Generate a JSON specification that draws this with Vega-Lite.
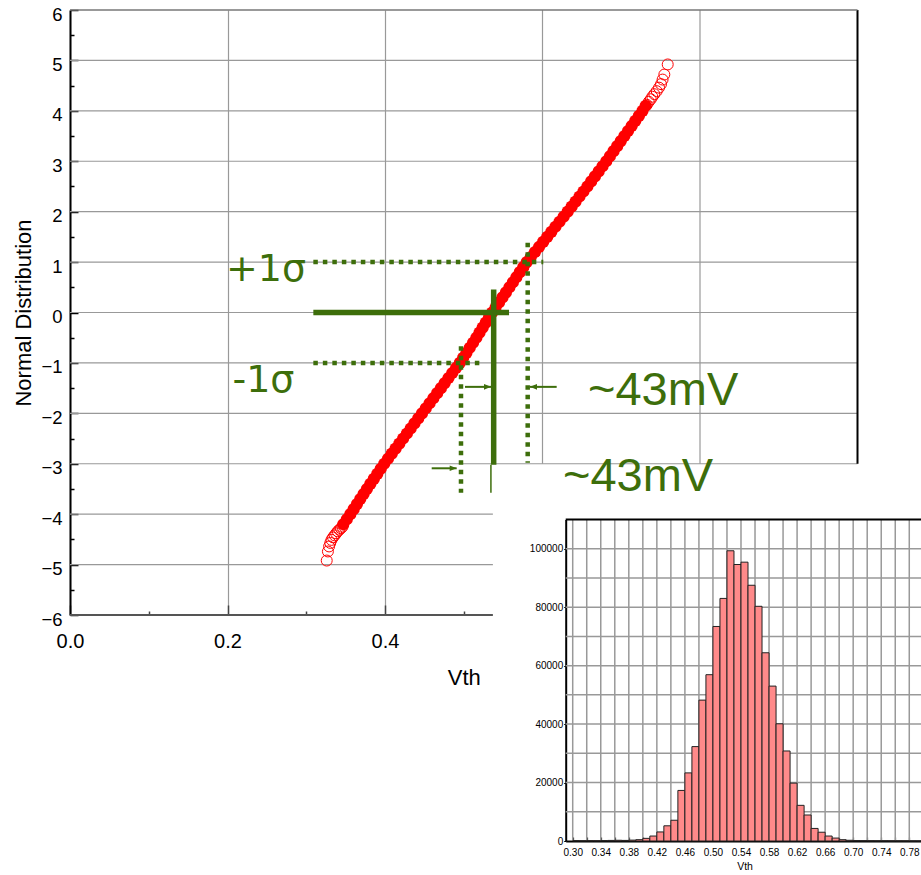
{
  "$schema": "https://vega.github.io/schema/vega-lite/v6.json",
  "width": 787.5,
  "height": 605,
  "autosize": "none",
  "padding": {"left": 70, "top": 10, "right": 63.5, "bottom": 260},
  "background": "white",
  "config": {"view": {"stroke": null}, "font": "Liberation Sans"},
  "datasets": {
    "qq_core": [
      {"z":-4.2,"vth":0.347},{"z":-4.1,"vth":0.3515},{"z":-4.0,"vth":0.356},{"z":-3.9,"vth":0.3602},{"z":-3.8,"vth":0.3644},{"z":-3.7,"vth":0.3686},{"z":-3.6,"vth":0.3728},{"z":-3.5,"vth":0.377},{"z":-3.4,"vth":0.3814},{"z":-3.3,"vth":0.3858},{"z":-3.2,"vth":0.3902},{"z":-3.1,"vth":0.3946},{"z":-3.0,"vth":0.399},{"z":-2.9,"vth":0.4038},{"z":-2.8,"vth":0.4086},{"z":-2.7,"vth":0.4134},{"z":-2.6,"vth":0.4182},{"z":-2.5,"vth":0.423},{"z":-2.4,"vth":0.4278},{"z":-2.3,"vth":0.4326},{"z":-2.2,"vth":0.4374},{"z":-2.1,"vth":0.4422},{"z":-2.0,"vth":0.447},{"z":-1.9,"vth":0.4518},{"z":-1.8,"vth":0.4566},{"z":-1.7,"vth":0.4614},{"z":-1.6,"vth":0.4662},{"z":-1.5,"vth":0.471},{"z":-1.4,"vth":0.4758},{"z":-1.3,"vth":0.4806},{"z":-1.2,"vth":0.4854},{"z":-1.1,"vth":0.4902},{"z":-1.0,"vth":0.495},{"z":-0.9,"vth":0.4992},{"z":-0.8,"vth":0.5034},{"z":-0.7,"vth":0.5076},{"z":-0.6,"vth":0.5118},{"z":-0.5,"vth":0.516},{"z":-0.4,"vth":0.52},{"z":-0.3,"vth":0.524},{"z":-0.2,"vth":0.528},{"z":-0.1,"vth":0.532},{"z":0,"vth":0.536},{"z":0.1,"vth":0.5404},{"z":0.2,"vth":0.5448},{"z":0.3,"vth":0.5492},{"z":0.4,"vth":0.5536},{"z":0.5,"vth":0.558},{"z":0.6,"vth":0.5624},{"z":0.7,"vth":0.5668},{"z":0.8,"vth":0.5712},{"z":0.9,"vth":0.5756},{"z":1.0,"vth":0.58},{"z":1.1,"vth":0.5852},{"z":1.2,"vth":0.5904},{"z":1.3,"vth":0.5956},{"z":1.4,"vth":0.6008},{"z":1.5,"vth":0.606},{"z":1.6,"vth":0.6112},{"z":1.7,"vth":0.6164},{"z":1.8,"vth":0.6216},{"z":1.9,"vth":0.6268},{"z":2.0,"vth":0.632},{"z":2.1,"vth":0.637},{"z":2.2,"vth":0.642},{"z":2.3,"vth":0.647},{"z":2.4,"vth":0.652},{"z":2.5,"vth":0.657},{"z":2.6,"vth":0.6618},{"z":2.7,"vth":0.6666},{"z":2.8,"vth":0.6714},{"z":2.9,"vth":0.6762},{"z":3.0,"vth":0.681},{"z":3.1,"vth":0.6856},{"z":3.2,"vth":0.6902},{"z":3.3,"vth":0.6948},{"z":3.4,"vth":0.6994},{"z":3.5,"vth":0.704},{"z":3.6,"vth":0.7086},{"z":3.7,"vth":0.7132},{"z":3.8,"vth":0.7178},{"z":3.9,"vth":0.7224},{"z":4.0,"vth":0.727},{"z":4.1,"vth":0.731}
    ],
    "qq_tail": [
      {"z":-4.25,"vth":0.346},{"z":-4.28,"vth":0.344},{"z":-4.31,"vth":0.342},{"z":-4.34,"vth":0.34},{"z":-4.38,"vth":0.338},{"z":-4.42,"vth":0.336},{"z":-4.46,"vth":0.334},{"z":-4.51,"vth":0.332},{"z":-4.57,"vth":0.3305},{"z":-4.64,"vth":0.329},{"z":-4.74,"vth":0.3275},{"z":-4.92,"vth":0.326},
      {"z":4.12,"vth":0.7325},{"z":4.18,"vth":0.735},{"z":4.23,"vth":0.7375},{"z":4.28,"vth":0.7395},{"z":4.33,"vth":0.742},{"z":4.39,"vth":0.745},{"z":4.46,"vth":0.748},{"z":4.53,"vth":0.7505},{"z":4.62,"vth":0.7525},{"z":4.72,"vth":0.7547},{"z":4.92,"vth":0.759}
    ],
    "main_vgrid_upper": [{"g":0.6},{"g":0.8}],
    "main_hgrid_full": [{"g":-3},{"g":-2},{"g":-1},{"g":0},{"g":1},{"g":2},{"g":3},{"g":4},{"g":5}],
    "main_hgrid_short": [{"g":-5},{"g":-4}],
    "hist": [
      {"bin_start":0.30,"bin_end":0.31,"count":150},{"bin_start":0.31,"bin_end":0.32,"count":100},{"bin_start":0.32,"bin_end":0.33,"count":120},{"bin_start":0.33,"bin_end":0.34,"count":100},{"bin_start":0.34,"bin_end":0.35,"count":150},{"bin_start":0.35,"bin_end":0.36,"count":200},{"bin_start":0.36,"bin_end":0.37,"count":250},{"bin_start":0.37,"bin_end":0.38,"count":200},{"bin_start":0.38,"bin_end":0.39,"count":300},{"bin_start":0.39,"bin_end":0.40,"count":450},
      {"bin_start":0.40,"bin_end":0.41,"count":900},{"bin_start":0.41,"bin_end":0.42,"count":1700},{"bin_start":0.42,"bin_end":0.43,"count":3100},{"bin_start":0.43,"bin_end":0.44,"count":5200},{"bin_start":0.44,"bin_end":0.45,"count":7100},{"bin_start":0.45,"bin_end":0.46,"count":17300},{"bin_start":0.46,"bin_end":0.47,"count":23300},{"bin_start":0.47,"bin_end":0.48,"count":32300},{"bin_start":0.48,"bin_end":0.49,"count":48200},{"bin_start":0.49,"bin_end":0.50,"count":56900},
      {"bin_start":0.50,"bin_end":0.51,"count":73400},{"bin_start":0.51,"bin_end":0.52,"count":83000},{"bin_start":0.52,"bin_end":0.53,"count":99300},{"bin_start":0.53,"bin_end":0.54,"count":94600},{"bin_start":0.54,"bin_end":0.55,"count":95400},{"bin_start":0.55,"bin_end":0.56,"count":87500},{"bin_start":0.56,"bin_end":0.57,"count":80300},{"bin_start":0.57,"bin_end":0.58,"count":64400},{"bin_start":0.58,"bin_end":0.59,"count":53000},{"bin_start":0.59,"bin_end":0.60,"count":40100},
      {"bin_start":0.60,"bin_end":0.61,"count":30800},{"bin_start":0.61,"bin_end":0.62,"count":19800},{"bin_start":0.62,"bin_end":0.63,"count":12200},{"bin_start":0.63,"bin_end":0.64,"count":8900},{"bin_start":0.64,"bin_end":0.65,"count":4300},{"bin_start":0.65,"bin_end":0.66,"count":3000},{"bin_start":0.66,"bin_end":0.67,"count":1700},{"bin_start":0.67,"bin_end":0.68,"count":1000},{"bin_start":0.68,"bin_end":0.69,"count":450},{"bin_start":0.69,"bin_end":0.70,"count":250},
      {"bin_start":0.70,"bin_end":0.71,"count":150},{"bin_start":0.71,"bin_end":0.72,"count":120},{"bin_start":0.72,"bin_end":0.73,"count":100},{"bin_start":0.73,"bin_end":0.74,"count":80},{"bin_start":0.74,"bin_end":0.75,"count":80},{"bin_start":0.75,"bin_end":0.76,"count":60},{"bin_start":0.76,"bin_end":0.77,"count":50},{"bin_start":0.77,"bin_end":0.78,"count":40},{"bin_start":0.78,"bin_end":0.79,"count":30},{"bin_start":0.79,"bin_end":0.80,"count":20}
    ],
    "vgrid": [
      {"v":0.30},{"v":0.32},{"v":0.34},{"v":0.36},{"v":0.38},{"v":0.40},{"v":0.42},{"v":0.44},{"v":0.46},{"v":0.48},{"v":0.50},{"v":0.52},{"v":0.54},{"v":0.56},{"v":0.58},{"v":0.60},{"v":0.62},{"v":0.64},{"v":0.66},{"v":0.68},{"v":0.70},{"v":0.72},{"v":0.74},{"v":0.76},{"v":0.78},{"v":0.80}
    ],
    "hgrid": [
      {"c":10000},{"c":20000},{"c":30000},{"c":40000},{"c":50000},{"c":60000},{"c":70000},{"c":80000},{"c":90000},{"c":100000}
    ],
    "dotted": [
      {"x":0.309,"x2":0.601,"y":1,"y2":1},
      {"x":0.309,"x2":0.525,"y":-1,"y2":-1},
      {"x":0.4965,"x2":0.4965,"y":-0.667,"y2":-3.574},
      {"x":0.5812,"x2":0.5812,"y":1.384,"y2":-2.98}
    ],
    "solid": [
      {"x":0.309,"x2":0.5575,"y":0,"y2":0},
      {"x":0.538,"x2":0.538,"y":0.458,"y2":-3.02}
    ],
    "solid_thin": [
      {"x":0.5345,"x2":0.5345,"y":-3.02,"y2":-3.574}
    ],
    "arrows": [
      {"tail":0.5016,"tip":0.5346,"y":-1.475,"dir":"right"},
      {"tail":0.618,"tip":0.5841,"y":-1.475,"dir":"left"},
      {"tail":0.4593,"tip":0.491,"y":-3.09,"dir":"right"}
    ],
    "sigma_labels": [
      {"x":0.198,"y":0.616,"label":"+1σ"},
      {"x":0.2063,"y":-1.585,"label":"-1σ"}
    ],
    "mv_labels": [
      {"x":0.6578,"y":-1.843,"label":"~43mV"},
      {"x":0.626,"y":-3.538,"label":"~43mV"}
    ]
  },
  "layer": [
    {
      "layer": [
        {
          "data": {"name": "main_vgrid_upper"},
          "mark": {"type": "rule", "color": "#999999", "strokeWidth": 1.2},
          "encoding": {
            "x": {"field": "g", "type": "quantitative", "scale": {"domain": [0, 1], "nice": false, "zero": false}, "axis": null},
            "y": {"datum": -3, "type": "quantitative", "scale": {"domain": [-6, 6], "nice": false, "zero": false}, "axis": null},
            "y2": {"datum": 6}
          }
        },
        {
          "data": {"name": "main_hgrid_full"},
          "mark": {"type": "rule", "color": "#999999", "strokeWidth": 1.2},
          "encoding": {
            "y": {"field": "g", "type": "quantitative", "scale": {"domain": [-6, 6], "nice": false, "zero": false}, "axis": null},
            "x": {"datum": 0, "type": "quantitative", "scale": {"domain": [0, 1], "nice": false, "zero": false}, "axis": null},
            "x2": {"datum": 1}
          }
        },
        {
          "data": {"name": "main_hgrid_short"},
          "mark": {"type": "rule", "color": "#999999", "strokeWidth": 1.2},
          "encoding": {
            "y": {"field": "g", "type": "quantitative", "scale": {"domain": [-6, 6], "nice": false, "zero": false}, "axis": null},
            "x": {"datum": 0, "type": "quantitative", "scale": {"domain": [0, 1], "nice": false, "zero": false}, "axis": null},
            "x2": {"datum": 0.537}
          }
        },
        {
          "data": {"values": [{}]},
          "mark": {"type": "rule", "color": "#555555", "strokeWidth": 2},
          "encoding": {
            "y": {"datum": -6, "type": "quantitative", "axis": null},
            "x": {"datum": 0, "type": "quantitative", "axis": null},
            "x2": {"datum": 0.537}
          }
        },
        {
          "data": {"values": [{}]},
          "mark": {"type": "rule", "color": "#000000", "strokeWidth": 2},
          "encoding": {
            "x": {"datum": 1, "type": "quantitative", "axis": null},
            "y": {"datum": -3, "type": "quantitative", "axis": null},
            "y2": {"datum": 6}
          }
        },
        {
          "data": {"values": [{}]},
          "mark": {"type": "rule", "color": "#777777", "strokeWidth": 1.5},
          "encoding": {
            "y": {"datum": 6, "type": "quantitative", "axis": null},
            "x": {"datum": 0, "type": "quantitative", "axis": null},
            "x2": {"datum": 1}
          }
        },
        {
          "data": {"name": "qq_core"},
          "mark": {"type": "point", "filled": true, "color": "#ff0000", "size": 150, "opacity": 1, "strokeWidth": 0},
          "encoding": {
            "x": {"field": "vth", "type": "quantitative", "scale": {"domain": [0, 1], "nice": false, "zero": false},
              "axis": {"orient": "bottom", "values": [0, 0.2, 0.4], "format": ".1f", "grid": true, "gridColor": "#999999", "gridWidth": 1.2,
                "domain": false, "tickColor": "#444444", "tickWidth": 1.5, "tickSize": -10,
                "labelFontSize": 20, "labelColor": "#000000", "labelPadding": 26, "labelFlush": false,
                "title": "Vth", "titleFontSize": 22, "titleFontWeight": "normal", "titleColor": "#000000", "titlePadding": 16}},
            "y": {"field": "z", "type": "quantitative", "scale": {"domain": [-6, 6], "nice": false, "zero": false},
              "axis": {"orient": "left", "values": [-6, -5, -4, -3, -2, -1, 0, 1, 2, 3, 4, 5, 6], "format": "d", "grid": false,
                "domainColor": "#000000", "domainWidth": 2, "tickColor": "#000000", "tickWidth": 1.5, "tickSize": -8,
                "labelFontSize": 18.5, "labelColor": "#000000", "labelPadding": 16, "labelOffset": 4, "labelFlush": false,
                "title": "Normal Distribution", "titleFontSize": 22, "titleFontWeight": "normal", "titleColor": "#000000", "titlePadding": 5}}
          }
        },
        {
          "data": {"name": "qq_tail"},
          "mark": {"type": "point", "filled": false, "color": "#ff0000", "size": 120, "strokeWidth": 1, "opacity": 1},
          "encoding": {
            "x": {"field": "vth", "type": "quantitative", "scale": {"domain": [0, 1], "nice": false, "zero": false},
              "axis": {"orient": "bottom", "values": [0.1, 0.3, 0.5], "grid": false, "labels": false, "domain": false, "tickSize": -4, "tickColor": "#444444", "tickWidth": 1.5, "title": null}},
            "y": {"field": "z", "type": "quantitative", "scale": {"domain": [-6, 6], "nice": false, "zero": false},
              "axis": {"orient": "left", "values": [-5.5, -4.5, -3.5, -2.5, -1.5, -0.5, 0.5, 1.5, 2.5, 3.5, 4.5, 5.5], "grid": false, "labels": false, "domain": false, "tickSize": -4, "tickColor": "#000000", "tickWidth": 1.5, "title": null}}
          }
        }
      ],
      "resolve": {"axis": {"x": "independent", "y": "independent"}}
    },
    {
      "layer": [
        {
          "data": {"name": "vgrid"},
          "mark": {"type": "rule", "color": "#999999", "strokeWidth": 1.5},
          "encoding": {
            "x": {"field": "v", "type": "quantitative", "scale": {"domain": [0.29, 0.8], "range": [495.7, 853.3], "nice": false, "zero": false}, "axis": null},
            "y": {"datum": 0, "type": "quantitative", "scale": {"domain": [0, 110000], "range": [831, 509.5], "nice": false, "zero": false}, "axis": null},
            "y2": {"datum": 110000}
          }
        },
        {
          "data": {"name": "hgrid"},
          "mark": {"type": "rule", "color": "#999999", "strokeWidth": 1.5},
          "encoding": {
            "y": {"field": "c", "type": "quantitative", "scale": {"domain": [0, 110000], "range": [831, 509.5], "nice": false, "zero": false}, "axis": null},
            "x": {"datum": 0.29, "type": "quantitative", "scale": {"domain": [0.29, 0.8], "range": [495.7, 853.3], "nice": false, "zero": false}, "axis": null},
            "x2": {"datum": 0.8}
          }
        },
        {
          "data": {"values": [{}]},
          "mark": {"type": "rule", "color": "#000000", "strokeWidth": 2},
          "encoding": {
            "y": {"datum": 110000, "type": "quantitative", "scale": {"domain": [0, 110000], "range": [831, 509.5], "nice": false, "zero": false}, "axis": null},
            "x": {"datum": 0.29, "type": "quantitative", "scale": {"domain": [0.29, 0.8], "range": [495.7, 853.3], "nice": false, "zero": false}, "axis": null},
            "x2": {"datum": 0.8}
          }
        },
        {
          "data": {"name": "hist"},
          "mark": {"type": "rect", "fill": "#ff8a8a", "stroke": "#222222", "strokeWidth": 1},
          "encoding": {
            "x": {"field": "bin_start", "type": "quantitative", "scale": {"domain": [0.29, 0.8], "range": [495.7, 853.3], "nice": false, "zero": false},
              "axis": {"orient": "bottom", "offset": 226, "values": [0.30, 0.32, 0.34, 0.36, 0.38, 0.40, 0.42, 0.44, 0.46, 0.48, 0.50, 0.52, 0.54, 0.56, 0.58, 0.60, 0.62, 0.64, 0.66, 0.68, 0.70, 0.72, 0.74, 0.76, 0.78, 0.80],
                "format": ".2f", "labelExpr": "round(datum.value*100) % 4 == 2 ? datum.label : ''", "grid": false, "domainColor": "#000000", "domainWidth": 2,
                "tickSize": -4, "tickColor": "#222222", "tickWidth": 1.2, "labelFontSize": 10, "labelColor": "#000000", "labelPadding": 10, "labelFlush": false, "labelOverlap": false,
                "title": "Vth", "titleFontSize": 10.5, "titleFontWeight": "normal", "titleColor": "#000000", "titlePadding": 4}},
            "x2": {"field": "bin_end"},
            "y": {"field": "count", "type": "quantitative", "scale": {"domain": [0, 110000], "range": [831, 509.5], "nice": false, "zero": false},
              "axis": {"orient": "left", "offset": -495.7, "values": [0, 20000, 40000, 60000, 80000, 100000], "format": "d", "grid": false,
                "domainColor": "#000000", "domainWidth": 2, "tickSize": 2, "tickColor": "#000000", "labelFontSize": 10, "labelColor": "#000000", "labelPadding": 1, "labelFlush": false,
                "title": null}},
            "y2": {"datum": 0}
          }
        }
      ],
      "resolve": {"axis": {"x": "independent", "y": "independent"}}
    },
    {
      "layer": [
        {
          "data": {"name": "dotted"},
          "mark": {"type": "rule", "color": "#3d6e0b", "strokeWidth": 4.5, "strokeDash": [4.5, 5]},
          "encoding": {
            "x": {"field": "x", "type": "quantitative", "scale": {"domain": [0, 1], "nice": false, "zero": false}, "axis": null},
            "x2": {"field": "x2"},
            "y": {"field": "y", "type": "quantitative", "scale": {"domain": [-6, 6], "nice": false, "zero": false}, "axis": null},
            "y2": {"field": "y2"}
          }
        },
        {
          "data": {"name": "solid"},
          "mark": {"type": "rule", "color": "#3d6e0b", "strokeWidth": 5.5},
          "encoding": {
            "x": {"field": "x", "type": "quantitative", "scale": {"domain": [0, 1], "nice": false, "zero": false}, "axis": null},
            "x2": {"field": "x2"},
            "y": {"field": "y", "type": "quantitative", "scale": {"domain": [-6, 6], "nice": false, "zero": false}, "axis": null},
            "y2": {"field": "y2"}
          }
        },
        {
          "data": {"name": "solid_thin"},
          "mark": {"type": "rule", "color": "#3d6e0b", "strokeWidth": 1.5},
          "encoding": {
            "x": {"field": "x", "type": "quantitative", "scale": {"domain": [0, 1], "nice": false, "zero": false}, "axis": null},
            "x2": {"field": "x2"},
            "y": {"field": "y", "type": "quantitative", "scale": {"domain": [-6, 6], "nice": false, "zero": false}, "axis": null},
            "y2": {"field": "y2"}
          }
        },
        {
          "data": {"name": "arrows"},
          "mark": {"type": "rule", "color": "#3d6e0b", "strokeWidth": 2},
          "encoding": {
            "x": {"field": "tail", "type": "quantitative", "scale": {"domain": [0, 1], "nice": false, "zero": false}, "axis": null},
            "x2": {"field": "tip"},
            "y": {"field": "y", "type": "quantitative", "scale": {"domain": [-6, 6], "nice": false, "zero": false}, "axis": null}
          }
        },
        {
          "data": {"name": "arrows"},
          "mark": {"type": "point", "filled": true, "color": "#3d6e0b", "size": 49, "opacity": 1, "strokeWidth": 0},
          "encoding": {
            "x": {"field": "tip", "type": "quantitative", "scale": {"domain": [0, 1], "nice": false, "zero": false}, "axis": null},
            "y": {"field": "y", "type": "quantitative", "scale": {"domain": [-6, 6], "nice": false, "zero": false}, "axis": null},
            "shape": {"field": "dir", "type": "nominal", "scale": {"domain": ["right", "left"], "range": ["M 0 0 L -2 -0.8 L -2 0.8 Z", "M 0 0 L 2 -0.8 L 2 0.8 Z"]}, "legend": null}
          }
        },
        {
          "data": {"name": "sigma_labels"},
          "mark": {"type": "text", "color": "#3d6e0b", "fontSize": 38, "align": "left", "baseline": "alphabetic", "font": "DejaVu Sans"},
          "encoding": {
            "x": {"field": "x", "type": "quantitative", "scale": {"domain": [0, 1], "nice": false, "zero": false}, "axis": null},
            "y": {"field": "y", "type": "quantitative", "scale": {"domain": [-6, 6], "nice": false, "zero": false}, "axis": null},
            "text": {"field": "label"}
          }
        },
        {
          "data": {"name": "mv_labels"},
          "mark": {"type": "text", "color": "#3d6e0b", "fontSize": 47, "align": "left", "baseline": "alphabetic", "font": "Liberation Sans"},
          "encoding": {
            "x": {"field": "x", "type": "quantitative", "scale": {"domain": [0, 1], "nice": false, "zero": false}, "axis": null},
            "y": {"field": "y", "type": "quantitative", "scale": {"domain": [-6, 6], "nice": false, "zero": false}, "axis": null},
            "text": {"field": "label"}
          }
        }
      ]
    }
  ],
  "resolve": {"scale": {"x": "independent", "y": "independent", "shape": "independent"}, "axis": {"x": "independent", "y": "independent"}}
}
